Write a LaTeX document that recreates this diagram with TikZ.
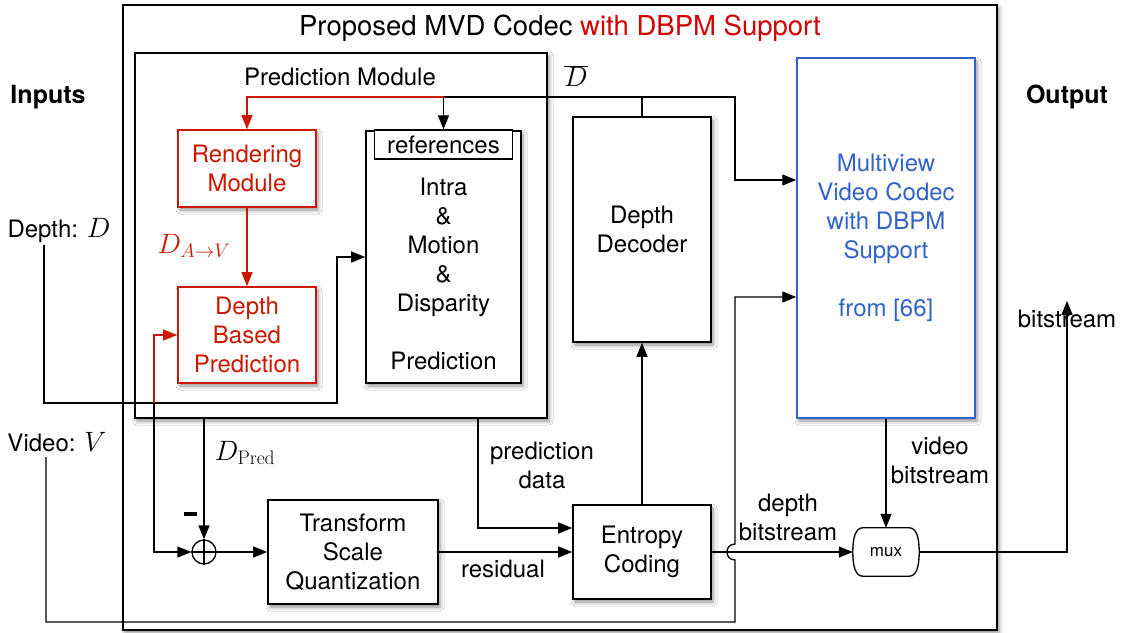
\RequirePackage{fix-cm}
\documentclass[tikz,border=0pt]{standalone}
\usepackage[no-math]{fontspec}
\setmainfont{TeX Gyre Heros}
\usetikzlibrary{arrows.meta,shadows.blur,calc}
\definecolor{dred}{RGB}{204,24,0}
\definecolor{tred}{RGB}{212,0,0}
\definecolor{mblue}{RGB}{48,100,200}
\newcommand{\bigmath}[1]{{\fontsize{28}{34}\selectfont$#1$}}
\begin{document}
\begin{tikzpicture}[x=1pt,y=-1pt,
  every node/.style={font=\fontsize{24}{29}\selectfont, inner sep=0pt},
  box/.style={draw, line width=1.6pt, fill=white,
    blur shadow={shadow xshift=2pt, shadow yshift=-3pt, shadow blur radius=4pt, shadow opacity=45}},
  redbox/.style={box, draw=dred, text=dred},
  conn/.style={line width=1.3pt},
  arr/.style={conn, -{Triangle[length=14pt,width=11pt]}},
  lbl/.style={align=center},
  hdr/.style={font=\bfseries\fontsize{25}{30}\selectfont},
]
\useasboundingbox (0,0) rectangle (1127,632);

% containers
\node[box, minimum width=874pt, minimum height=625pt] (outer) at (560,317.5) {};
\node[box, minimum width=412pt, minimum height=365pt] (pm) at (341,235.5) {};
\node[font=\fontsize{27.5}{33}\selectfont] (title) at (560,28) {Proposed MVD Codec \textcolor{tred}{with DBPM Support}};
\node (pmlabel) at (340,77) {Prediction Module};

% blocks
\node[redbox, lbl, minimum width=138pt, minimum height=77pt] (rend) at (247,168.5) {Rendering\\Module};
\node[redbox, lbl, minimum width=138pt, minimum height=96pt] (dbp) at (247,335) {Depth\\Based\\Prediction};
\node[box, minimum width=155pt, minimum height=252pt] (intra) at (443.5,257) {};
\node[draw, line width=1.4pt, fill=white, minimum width=138pt, minimum height=29pt] (refs) at (443.5,144.5) {references};
\node[lbl] (intratxt) at (443.5,274) {Intra\\\&\\Motion\\\&\\Disparity\\[29pt]Prediction};
\node[box, lbl, minimum width=138pt, minimum height=225pt] (dd) at (642,229.5) {Depth\\Decoder};
\node[box, lbl, draw=mblue, text=mblue, line width=1.5pt, minimum width=178pt, minimum height=360pt] (mvc) at (886,238) {Multiview\\Video Codec\\with DBPM\\Support\\[29pt]from [66]};
\node[box, lbl, minimum width=170pt, minimum height=104pt] (tsq) at (353,552) {Transform\\Scale\\Quantization};
\node[box, lbl, minimum width=138pt, minimum height=94pt] (ec) at (642,552) {Entropy\\Coding};
\node[minimum width=66pt, minimum height=48pt, font=\fontsize{17}{20}\selectfont] (mux) at (886,552) {mux};
\draw[conn] ([xshift=10pt]mux.north west) -- ([xshift=-10pt]mux.north east)
  .. controls ([xshift=-3pt]mux.north east) and ([yshift=-9pt]mux.north east) .. (mux.east)
  .. controls ([yshift=9pt]mux.south east) and ([xshift=-3pt]mux.south east) .. ([xshift=-10pt]mux.south east)
  -- ([xshift=10pt]mux.south west)
  .. controls ([xshift=3pt]mux.south west) and ([yshift=9pt]mux.south west) .. (mux.west)
  .. controls ([yshift=-9pt]mux.north west) and ([xshift=3pt]mux.north west) .. ([xshift=10pt]mux.north west) -- cycle;
\node[draw, circle, line width=1.3pt, minimum size=24pt] (sum) at (204,552) {};
\draw[conn] (sum.north) -- (sum.south) (sum.west) -- (sum.east);
\node[fill, minimum width=13pt, minimum height=4pt] (minus) at (190,514) {};

% labels
\node[hdr] (inputs) at (48,97) {Inputs};
\node[hdr] (output) at (1067,97) {Output};
\node (dlbl) at (59,231) {Depth: \bigmath{D}};
\node (vlbl) at (57,442) {Video: \bigmath{V}};
\node[text=dred] (dav) at (194,246) {\bigmath{D_{A\to V}}};
\node (dbar) at (576,76) {\bigmath{\overline{D}}};
\node (dpred) at (245,453) {\bigmath{D_{\mathrm{Pred}}}};
\node[lbl] (pdata) at (542,465) {prediction\\data};
\node (resid) at (503,569) {residual};
\node[lbl] (dbs) at (788,517) {depth\\bitstream};
\node[lbl] (vbs) at (940,460) {video\\bitstream};
\node (bs) at (1067,319) {bitstream};

% D-bar bus
\coordinate (busD) at (642,97);
\coordinate (busM) at (443.5,97);
\coordinate (busL) at (247,97);
\coordinate (busR) at (735,97);
\draw[conn] (dd.north) -- (busD) -- (busM);
\draw[arr] (busM) -- (refs.north);
\draw[arr, color=dred] (busM) -- (busL) -- (rend.north);
\draw[arr] (busD) -- (busR) |- (mvc.west |- 0,180);
\draw[arr, color=dred] (rend.south) -- (dbp.north);

% depth input
\coordinate (din) at (44,245);
\coordinate (dj) at (154,403);
\draw[arr] (din) |- (dj) -- (337,403) |- (intra.west);
\draw[arr, color=dred] (dj) |- (dbp.west);
\draw[arr] (dj) |- (sum.west);

% video input
\coordinate (vin) at (46,457);
\draw[arr] (vin) -- (46,622) -- (735,622) -- (735,560) .. controls (724.3,560) and (724.3,544) .. (735,544) -- (735,297) -- (mvc.west |- 0,297);

% main path
\draw[arr] (sum |- pm.south) -- (sum.north);
\draw[arr] (sum.east) -- (tsq.west);
\draw[arr] (tsq.east) -- (ec.west);
\draw[arr] (pm.south -| 478,0) |- (ec.west |- 0,528);
\draw[arr] (ec.north) -- (dd.south);
\draw[arr] (ec.east) -- (mux.west);
\draw[arr] (mvc.south -| mux.north) -- (mux.north);
\draw[arr] (mux.east) -| ([yshift=9pt]bs.north);
\end{tikzpicture}
\end{document}
